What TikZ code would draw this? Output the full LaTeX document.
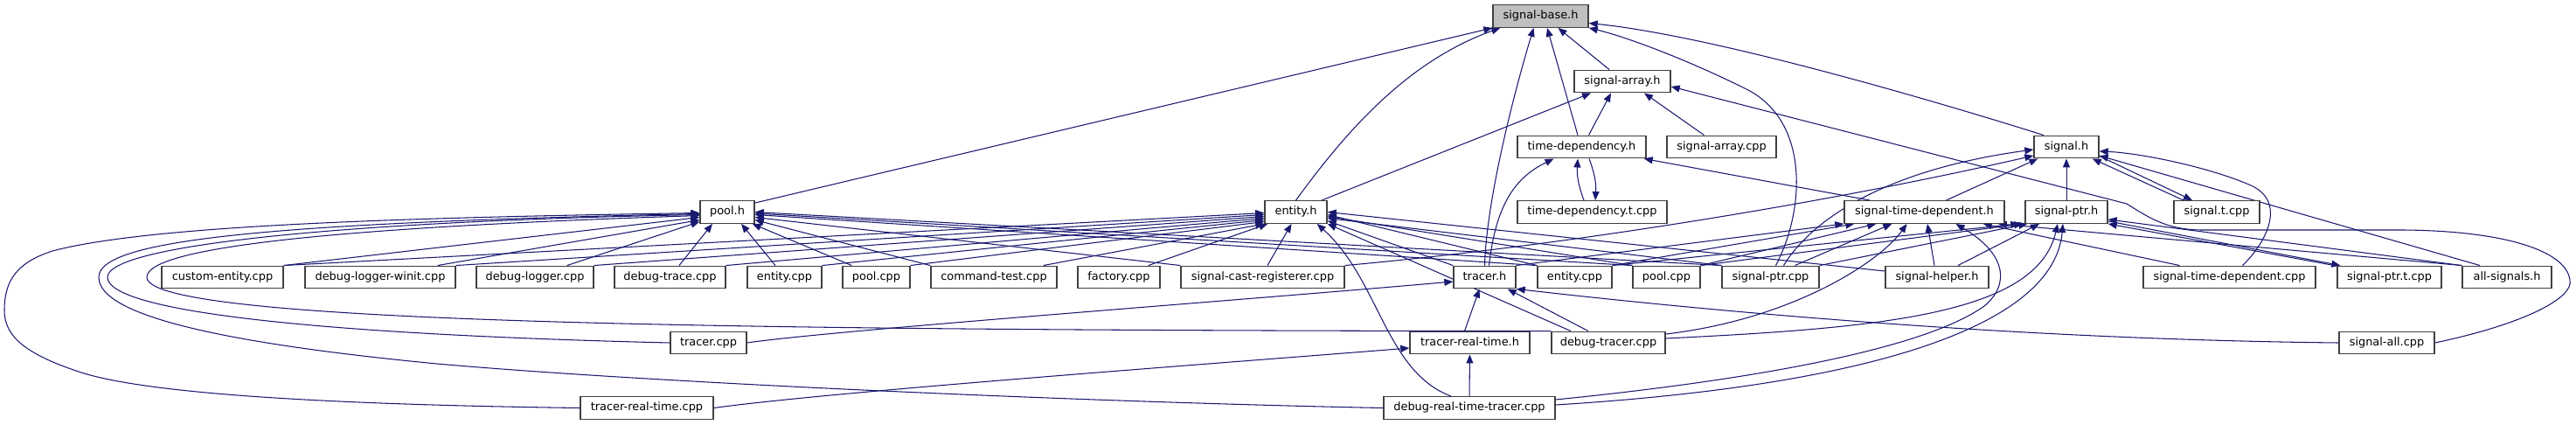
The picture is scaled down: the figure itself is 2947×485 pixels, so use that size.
\documentclass[tikz,border=0pt]{standalone}
\usepackage{fontspec}
\setmainfont{DejaVu Sans}
\usetikzlibrary{arrows.meta,backgrounds}
\definecolor{dgblue}{HTML}{191970}
\definecolor{boxline}{HTML}{404040}
\definecolor{basefill}{HTML}{BFBFBF}
\begin{document}
\begin{tikzpicture}[x=1pt,y=-1pt,
  incbox/.style={draw=boxline, line width=1.4pt, fill=white, rectangle, inner sep=0pt,
    minimum height=25.5pt, font=\fontsize{12.9}{15}\selectfont, text height=9.4pt, text depth=2.7pt},
  dep/.style={draw=dgblue, line width=1.05pt, -{Triangle[length=10pt,width=8pt]}}]
\useasboundingbox (0,0) rectangle (2947,485);
% row 0-3
\node[incbox, fill=basefill, minimum width=109pt] (sb) at (1762.5,18.5) {signal-base.h};
\node[incbox, minimum width=110pt] (sah) at (1856,93) {signal-array.h};
\node[incbox, minimum width=147pt] (tdh) at (1809.5,168) {time-dependency.h};
\node[incbox, minimum width=125pt] (sac) at (1969.5,168) {signal-array.cpp};
\node[incbox, minimum width=74pt] (sh) at (2364,168) {signal.h};
\node[incbox, minimum width=62pt] (poolh) at (832,242.5) {pool.h};
\node[incbox, minimum width=71pt] (enth) at (1482.5,242.5) {entity.h};
\node[incbox, minimum width=171pt] (tdt) at (1821.5,242.5) {time-dependency.t.cpp};
\node[incbox, minimum width=183pt] (stdh) at (2201.5,242.5) {signal-time-dependent.h};
\node[incbox, minimum width=94pt] (sph) at (2364,242.5) {signal-ptr.h};
\node[incbox, minimum width=98pt] (stc) at (2536,242.5) {signal.t.cpp};
% row 4
\node[incbox, minimum width=139pt] (ce) at (254.5,317) {custom-entity.cpp};
\node[incbox, minimum width=172pt] (dlw) at (435,317) {debug-logger-winit.cpp};
\node[incbox, minimum width=134pt] (dl) at (612,317) {debug-logger.cpp};
\node[incbox, minimum width=127pt] (dt) at (766.5,317) {debug-trace.cpp};
\node[incbox, minimum width=85pt] (ec1) at (897.5,317) {entity.cpp};
\node[incbox, minimum width=77pt] (pc1) at (1002.5,317) {pool.cpp};
\node[incbox, minimum width=144pt] (ct) at (1137,317) {command-test.cpp};
\node[incbox, minimum width=94pt] (fac) at (1280,317) {factory.cpp};
\node[incbox, minimum width=187pt] (scr) at (1444.5,317) {signal-cast-registerer.cpp};
\node[incbox, minimum width=71pt] (trh) at (1698.5,317) {tracer.h};
\node[incbox, minimum width=85pt] (ec2) at (1801.5,317) {entity.cpp};
\node[incbox, minimum width=77pt] (pc2) at (1906.5,317) {pool.cpp};
\node[incbox, minimum width=111pt] (spc) at (2025.5,317) {signal-ptr.cpp};
\node[incbox, minimum width=118pt] (shh) at (2216,317) {signal-helper.h};
\node[incbox, minimum width=197pt] (stdc) at (2550.5,317) {signal-time-dependent.cpp};
\node[incbox, minimum width=119pt] (sptc) at (2733.5,317) {signal-ptr.t.cpp};
\node[incbox, minimum width=102pt] (alls) at (2868,317) {all-signals.h};
% row 5-6
\node[incbox, minimum width=87pt] (trc) at (810.5,392) {tracer.cpp};
\node[incbox, minimum width=137pt] (trth) at (1681.5,392) {tracer-real-time.h};
\node[incbox, minimum width=130pt] (dtc) at (1840,392) {debug-tracer.cpp};
\node[incbox, minimum width=109pt] (sac2) at (2730.5,392) {signal-all.cpp};
\node[incbox, minimum width=152pt] (trtc) at (740,466.5) {tracer-real-time.cpp};
\node[incbox, minimum width=196pt] (drt) at (1681,466.5) {debug-real-time-tracer.cpp};

\begin{scope}[on background layer]
\fill[white] (0,0) rectangle (2947,485);
% ---- edges into signal-base.h
\draw[dep] ([yshift=-3pt]poolh.north east) -- (sb.south west);
\draw[dep] (enth.north) .. controls (1540,150) and (1610,70) .. ([xshift=9pt]sb.south west);
\draw[dep] (trh.north) .. controls (1700,240) and (1725,130) .. ([xshift=-8pt]sb.south);
\draw[dep] ([xshift=-4.5pt]tdh.north) -- ([xshift=7.5pt]sb.south);
\draw[dep] ([xshift=-15pt]sah.north) -- ([xshift=20pt]sb.south);
\draw[dep] ([xshift=6pt]spc.north) .. controls (2065,240) and (2070,140) .. (2000,103) .. controls (1930,68) and (1860,42) .. (sb.south east);
\draw[dep] ([xshift=-26pt]sh.north) .. controls (2180,105) and (1950,40) .. ([yshift=-8pt]sb.east);
% ---- signal-array.h
\draw[dep] ([xshift=29.5pt]enth.north) -- ([xshift=-36pt]sah.south);
\draw[dep] ([xshift=8pt]tdh.north) -- ([xshift=-13pt]sah.south);
\draw[dep] ([xshift=-20pt]sac.north) -- ([xshift=25pt]sah.south);
\draw[dep] (sac2.east) .. controls (2890,370) and (2945,340) .. (2940,320) .. controls (2935,285) and (2860,264) .. (2750,263) -- (2520,263) .. controls (2480,263) and (2460,250) .. (2433,233) -- ([yshift=-6pt]sah.east);
% ---- time-dependency.h
\draw[dep] ([xshift=8.5pt]tdh.south) to[bend left=12] ([xshift=3.5pt]tdt.north);
\draw[dep] ([xshift=-9.5pt]tdt.north) to[bend left=12] ([xshift=-4.5pt]tdh.south);
\draw[dep] ([xshift=5pt]trh.north) .. controls (1712,225) and (1740,200) .. ([xshift=-32pt]tdh.south);
\draw[dep] ([xshift=30pt]stdh.north west) -- ([xshift=-3pt]tdh.south east);
% ---- signal.h
\draw[dep] ([yshift=3pt]sh.south east) -- ([xshift=-28pt]stc.north);
\draw[dep] ([xshift=-38pt]stc.north) -- ([xshift=-8pt]sh.south east);
\draw[dep] ([xshift=25pt]stdh.north) -- ([xshift=5pt]sh.south west);
\draw[dep] (sph.north) -- (sh.south);
\draw[dep] (scr.north east) .. controls (1800,280) and (2100,230) .. ([yshift=-10pt]sh.west);
\draw[dep] ([xshift=15pt]spc.north) .. controls (2070,255) and (2150,195) .. ([yshift=-3pt]sh.west);
\draw[dep] ([xshift=15pt]stdc.north) .. controls (2595,275) and (2615,230) .. (2575,212) .. controls (2530,192) and (2450,175) .. ([yshift=-5pt]sh.east);
\draw[dep] ([xshift=-31pt]alls.north) -- ([yshift=-10pt]sh.east);
% ---- signal-ptr.h
\draw[dep] ([yshift=3pt]sph.south east) -- ([xshift=4pt]sptc.north west);
\draw[dep] ([xshift=-3pt]sptc.north west) -- (sph.south east);
\draw[dep] ([xshift=24pt]shh.north) -- ([xshift=-31pt]sph.south);
\draw[dep] (alls.north west) -- ([yshift=5pt]sph.south east);
\draw[dep] ([yshift=5pt]dtc.east) .. controls (2150,375) and (2330,360) .. ([xshift=-10pt]sph.south);
\draw[dep] ([yshift=3.5pt]drt.east) .. controls (2150,440) and (2350,370) .. ([xshift=-4pt]sph.south);
\draw[dep] (ec2.north east) -- ([xshift=-6pt]sph.south west);
\draw[dep] (pc2.north east) -- ([xshift=-2pt]sph.south west);
\draw[dep] (spc.north east) -- ([xshift=3pt]sph.south west);
% ---- signal-time-dependent.h
\draw[dep] (trh.north east) -- (stdh.south west);
\draw[dep] (ec2.north east) -- ([xshift=12pt]stdh.south west);
\draw[dep] (pc2.north east) -- ([xshift=37pt]stdh.south west);
\draw[dep] ([xshift=28pt]spc.north) -- ([xshift=55pt]stdh.south west);
\draw[dep] ([yshift=10pt]dtc.east) .. controls (2050,365) and (2150,300) .. ([xshift=-20pt]stdh.south);
\draw[dep] ([xshift=-3pt]shh.north) -- ([xshift=3.5pt]stdh.south);
\draw[dep] ([yshift=9.5pt]drt.east) .. controls (2000,435) and (2200,400) .. (2270,350) .. controls (2300,325) and (2295,290) .. ([xshift=36pt]stdh.south);
\draw[dep] ([xshift=-57pt]stdc.north) -- ([xshift=-25pt]stdh.south east);
\draw[dep] (alls.north west) -- ([xshift=-8pt]stdh.south east);
% ---- tracer.h and tracer-real-time.h
\draw[dep] (trc.east) .. controls (950,378) and (1400,345) .. ([yshift=-5pt]trh.west);
\draw[dep] ([xshift=-6pt]trth.north) -- ([xshift=-6pt]trh.south);
\draw[dep] ([xshift=-23pt]dtc.north) -- ([xshift=-10pt]trh.south east);
\draw[dep] (sac2.west) .. controls (2300,388) and (1950,355) .. (trh.south east);
\draw[dep] (drt.north) -- (trth.south);
\draw[dep] (trtc.east) .. controls (950,448) and (1400,415) .. ([yshift=-6pt]trth.west);
% ---- entity.h from the right
\draw[dep] ([yshift=7pt]shh.west) -- (enth.east);
\draw[dep] (ec2.north west) -- ([yshift=-3pt]enth.east);
\draw[dep] (pc2.north west) -- ([yshift=-5pt]enth.east);
\draw[dep] (spc.north west) -- ([yshift=-7pt]enth.east);
\draw[dep] (trh.north west) -- ([yshift=-10pt]enth.east);
\draw[dep] ([xshift=-43pt]dtc.north) -- (enth.south east);
\draw[dep] ([xshift=-21pt]drt.north) .. controls (1585,425) and (1578,320) .. ([xshift=-12pt]enth.south east);
% ---- entity.h from the left
\draw[dep] (ce.north east) -- ([yshift=-1pt]enth.west);
\draw[dep] (dlw.north east) -- ([yshift=-3pt]enth.west);
\draw[dep] (dl.north east) -- ([yshift=-5pt]enth.west);
\draw[dep] (dt.north east) -- ([yshift=-7pt]enth.west);
\draw[dep] (ec1.north east) -- ([yshift=-9pt]enth.west);
\draw[dep] (pc1.north east) -- ([yshift=-11pt]enth.west);
\draw[dep] ([xshift=-16pt]ct.north east) -- (enth.south west);
\draw[dep] ([xshift=-14pt]fac.north east) -- ([xshift=4pt]enth.south west);
\draw[dep] ([xshift=5.5pt]scr.north) -- ([xshift=-5pt]enth.south);
% ---- pool.h
\draw[dep] (ce.north east) -- ([yshift=-6pt]poolh.west);
\draw[dep] ([xshift=-21pt]dlw.north east) -- ([yshift=-9pt]poolh.west);
\draw[dep] ([xshift=-31pt]dl.north east) -- ([yshift=-11pt]poolh.west);
\draw[dep] ([xshift=10.5pt]dt.north) -- ([xshift=-17pt]poolh.south);
\draw[dep] ([xshift=-10.5pt]ec1.north) -- ([xshift=16pt]poolh.south);
\draw[dep] ([xshift=11pt]pc1.north west) -- ([xshift=-3pt]poolh.south east);
\draw[dep] (ct.north west) -- ([yshift=-9pt]poolh.east);
\draw[dep] (scr.north west) -- ([yshift=-6pt]poolh.east);
\draw[dep] (ec2.north west) -- ([yshift=-3pt]poolh.east);
\draw[dep] (pc2.north west) -- ([yshift=-1.5pt]poolh.east);
\draw[dep] (spc.north west) -- (poolh.east);
\draw[dep] (trtc.west) .. controls (400,463) and (170,452) .. (90,425) .. controls (30,405) and (5,385) .. (5,355) .. controls (5,320) and (20,300) .. (60,287) .. controls (170,258) and (450,249) .. ([yshift=-1pt]poolh.west);
\draw[dep] (drt.west) .. controls (1250,460) and (750,438) .. (500,416) .. controls (250,392) and (113,360) .. (113,317) .. controls (113,275) and (300,255) .. ([yshift=-2pt]poolh.west);
\draw[dep] (trc.west) .. controls (350,382) and (123,355) .. (123,317) .. controls (123,280) and (400,253) .. ([yshift=-3pt]poolh.west);
\draw[dep] (dtc.north west) .. controls (900,378) and (168,372) .. (168,317) .. controls (168,278) and (450,258) .. ([yshift=-4pt]poolh.west);
\end{scope}
\end{tikzpicture}
\end{document}
